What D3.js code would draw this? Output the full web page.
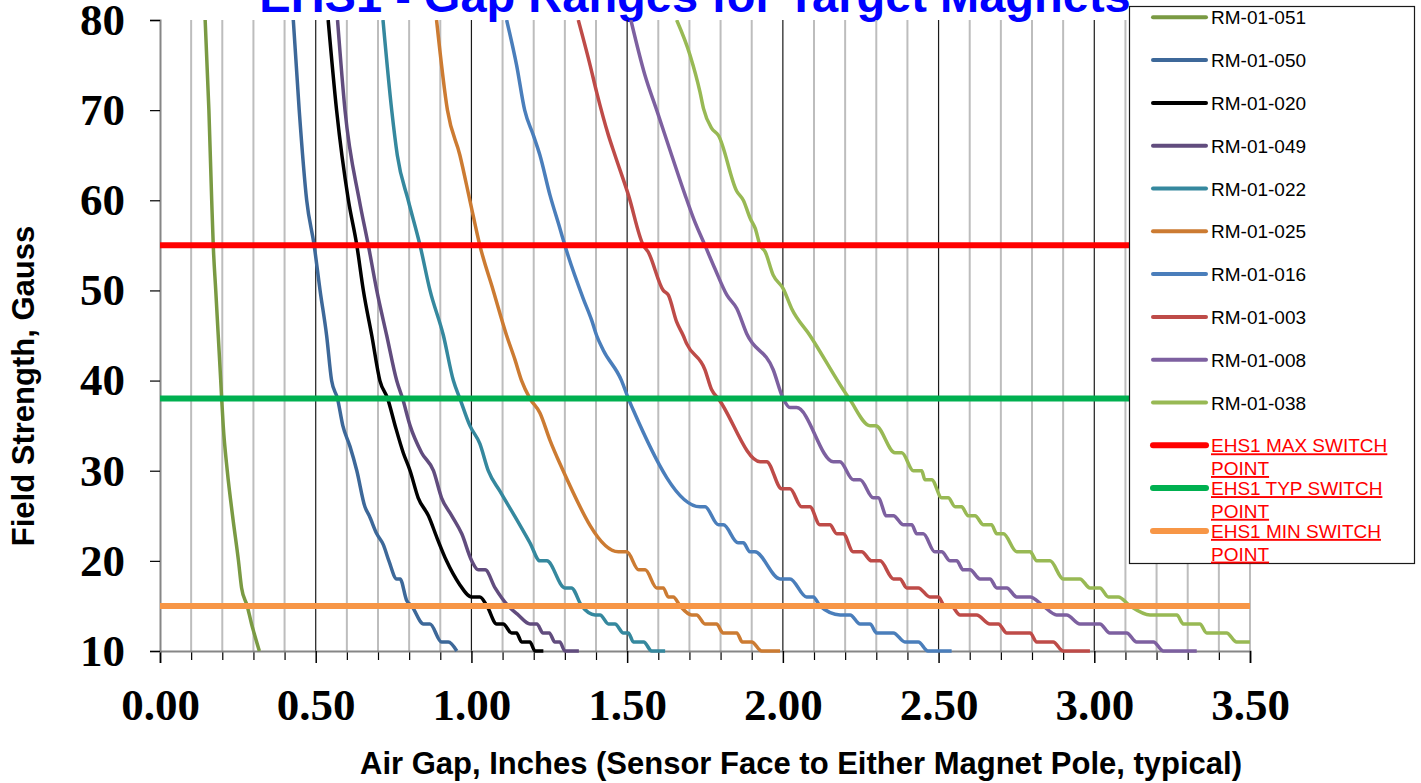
<!DOCTYPE html>
<html>
<head>
<meta charset="utf-8">
<script src="https://d3js.org/d3.v7.min.js"></script>
<style>
  body { margin: 0; background: #fff; }
  .tick text { font-family: "Liberation Serif", "Times New Roman", serif; font-weight: bold; fill: #000; }
</style>
</head>
<body>
<div id="chart"></div>
<script>
var svgWidth = 1421;
var svgHeight = 783;

var margin = { top: 20, right: 171, bottom: 132, left: 160 };
var width = svgWidth - margin.left - margin.right;
var height = svgHeight - margin.top - margin.bottom;

// tick values
var xTicks = [0, 0.5, 1.0, 1.5, 2.0, 2.5, 3.0, 3.5];
var yTicks = [10, 20, 30, 40, 50, 60, 70, 80];

// series as [air gap (in), field (gauss)]
var seriesNames = ["RM-01-051", "RM-01-050", "RM-01-020", "RM-01-049", "RM-01-022",
  "RM-01-025", "RM-01-016", "RM-01-003", "RM-01-008", "RM-01-038"];

var rm051 = [[0.145,80],[0.157,70],[0.166,60],[0.171,55],[0.179,50],[0.187,45],[0.195,40],[0.198,38],
  [0.203,35],[0.216,30],[0.233,25],[0.252,20],[0.262,17],[0.280,15],[0.294,13],[0.302,12],[0.319,10]];
var rm050 = [[0.428,80],[0.447,70],[0.471,60],[0.495,55],[0.514,50],[0.535,45],[0.551,40],[0.570,38],
  [0.587,35],[0.610,32.7],[0.632,30],[0.658,26],[0.672,25],[0.696,23],[0.717,21.8],[0.735,20],
  [0.760,18],[0.771,18],[0.792,15.6],[0.808,15],[0.846,13],[0.867,13],[0.904,11],[0.926,11],[0.953,10]];
var rm020 = [[0.540,80],[0.567,70],[0.605,60],[0.632,55],[0.653,50],[0.680,45],[0.706,40],[0.731,38],
  [0.755,35],[0.781,32],[0.803,30],[0.829,27],[0.862,25],[0.890,22.5],[0.920,20],[0.960,17.5],
  [1.001,16],[1.027,16],[1.050,15],[1.081,13],[1.102,13],[1.129,12],[1.145,12],[1.161,11],
  [1.188,11],[1.204,10],[1.231,10]];
var rm049 = [[0.570,80],[0.594,70],[0.640,60],[0.669,55],[0.696,50],[0.728,45],[0.760,40],[0.779,38],
  [0.803,35],[0.840,32],[0.878,30],[0.904,27],[0.937,25],[0.969,23],[1.001,20],[1.022,19],[1.044,19],
  [1.076,17],[1.118,15],[1.150,14],[1.188,13],[1.210,13],[1.230,12],[1.250,12],[1.268,11],[1.284,11],
  [1.300,10],[1.345,10]];
var rm022 = [[0.716,80],[0.744,70],[0.762,65],[0.797,60],[0.835,55],[0.867,50],[0.910,45],[0.942,40],
  [0.963,38],[0.995,35],[1.027,33],[1.054,30],[1.092,27.7],[1.145,24.6],[1.188,22],[1.220,20],
  [1.242,20],[1.300,17],[1.321,17],[1.354,15],[1.397,14],[1.413,14],[1.440,13],[1.461,13],[1.488,12],
  [1.504,12],[1.520,11],[1.553,11],[1.579,10],[1.622,10]];
var rm025 = [[0.888,80],[0.923,70],[0.963,65],[0.995,60],[1.027,55],[1.070,50],[1.113,45],[1.140,42.3],
  [1.161,40],[1.188,38],[1.220,36.4],[1.252,33.4],[1.284,30.8],[1.472,21],[1.499,21],[1.537,19],
  [1.558,19],[1.595,17],[1.616,17],[1.632,16],[1.648,16],[1.670,15],[1.707,14],[1.723,14],[1.750,13],
  [1.787,13],[1.808,12],[1.852,12],[1.870,11],[1.900,11],[1.932,10],[1.991,10]];
var rm016 = [[1.113,80],[1.145,75],[1.171,70],[1.199,67.2],[1.220,65],[1.252,60.6],[1.284,56.9],
  [1.300,55],[1.359,49.1],[1.386,46.7],[1.402,45],[1.423,43.4],[1.482,40],[1.504,38],[1.520,36.7],
  [1.734,26],[1.750,26],[1.793,24],[1.809,24],[1.856,22],[1.873,22],[1.894,21],[1.910,21],[1.991,18],
  [2.023,18],[2.076,16],[2.098,16],[2.119,15],[2.184,14],[2.216,14],[2.248,13],[2.280,13],[2.301,12],
  [2.355,12],[2.392,11],[2.435,11],[2.466,10],[2.542,10]];
var rm003 = [[1.343,80],[1.381,75],[1.402,72],[1.440,67.2],[1.461,65],[1.504,60.6],[1.552,55],
  [1.567,54.3],[1.616,50],[1.632,49.5],[1.659,46.5],[1.680,45],[1.691,44.1],[1.750,41.2],[1.771,39],
  [1.793,38],[1.927,31],[1.948,31],[1.996,28],[2.023,28],[2.060,26],[2.087,26],[2.119,24],[2.151,24],
  [2.173,23],[2.194,23],[2.226,21],[2.253,21],[2.285,20],[2.312,20],[2.355,18],[2.376,18],[2.398,17],
  [2.435,17],[2.472,16],[2.499,16],[2.520,15],[2.540,15],[2.569,14],[2.622,14],[2.665,13],[2.692,13],
  [2.719,12],[2.794,12],[2.815,11],[2.868,11],[2.900,10],[2.986,10]];
var rm008 = [[1.512,80],[1.557,73.9],[1.595,70],[1.643,65],[1.686,60.6],[1.713,58],[1.750,55],
  [1.782,52.4],[1.820,49.5],[1.852,48],[1.884,45.2],[1.969,41.2],[2.001,38],[2.023,37],[2.044,37],
  [2.162,31],[2.183,31],[2.226,29],[2.248,29],[2.290,27],[2.306,27],[2.333,25],[2.355,25],[2.387,24],
  [2.414,24],[2.430,23],[2.451,23],[2.488,21],[2.510,21],[2.537,20],[2.558,20],[2.579,19],[2.601,19],
  [2.633,18],[2.665,18],[2.687,17],[2.719,17],[2.751,16],[2.794,16],[2.836,15],[2.879,14],[2.911,14],
  [2.954,13],[3.018,13],[3.050,12],[3.104,12],[3.136,11],[3.190,11],[3.222,10],[3.329,10]];
var rm038 = [[1.659,80],[1.702,76.1],[1.734,72],[1.745,70.2],[1.771,68],[1.793,67.2],[1.852,61],
  [1.873,60],[1.895,58],[1.911,56.9],[1.927,55],[1.943,54.3],[1.969,51.7],[2.001,50.2],[2.028,48],
  [2.087,45],[2.213,38],[2.280,35],[2.298,35],[2.360,32],[2.382,32],[2.419,30],[2.446,30],[2.456,29],
  [2.478,29],[2.510,27],[2.531,27],[2.553,26],[2.574,26],[2.595,25],[2.617,25],[2.644,24],[2.670,24],
  [2.687,23],[2.708,23],[2.751,21],[2.794,21],[2.815,20],[2.858,20],[2.900,18],[2.954,18],[2.986,17],
  [3.018,17],[3.045,16],[3.077,16],[3.115,15],[3.179,14],[3.265,14],[3.286,13],[3.339,13],[3.361,12],
  [3.425,12],[3.457,11],[3.500,11]];

var seriesData = [rm051, rm050, rm020, rm049, rm022, rm025, rm016, rm003, rm008, rm038];

// switch point limits
var refNames = [["EHS1 MAX SWITCH", "POINT"], ["EHS1 TYP SWITCH", "POINT"], ["EHS1 MIN SWITCH", "POINT"]];
var refValues = [55, 38, 15];

var seriesColors = ["#7A9A43", "#3D6899", "#000000", "#614C7E", "#35889E",
  "#CC7B32", "#4A7EBB", "#BE4B48", "#7D60A0", "#98B954"];
var refColors = ["#FF0000", "#00B050", "#F79646"];

var svg = d3.select("#chart")
  .append("svg")
  .attr("width", svgWidth)
  .attr("height", svgHeight)
  .style("background", "#fff");

// title, mostly cut off at the top
svg.append("text")
  .attr("x", 695)
  .attr("y", 12)
  .attr("text-anchor", "middle")
  .style("font-family", "'Liberation Sans', Arial, sans-serif")
  .style("font-weight", "bold")
  .style("font-size", "47px")
  .style("fill", "#0000FF")
  .text("EHS1 - Gap Ranges for Target Magnets");

var chartGroup = svg.append("g")
  .attr("transform", `translate(${margin.left}, ${margin.top})`);

var xScale = d3.scaleLinear().domain([0, 3.5]).range([0, width]);
var yScale = d3.scaleLinear().domain([10, 80]).range([height, 0]);

// vertical grid
var minorTicks = d3.range(1, 36).map(d => d / 10).filter(d => Math.round(d * 10) % 5 !== 0);
var majorTicks = xTicks.filter(d => d > 0 && d < 3.5);

chartGroup.selectAll(".minorGrid")
  .data(minorTicks.concat([3.5]))
  .enter()
  .append("line")
  .attr("x1", d => xScale(d))
  .attr("x2", d => xScale(d))
  .attr("y1", 0)
  .attr("y2", height)
  .attr("stroke", "#BDBDBD")
  .attr("stroke-width", 2);

chartGroup.selectAll(".majorGrid")
  .data(majorTicks)
  .enter()
  .append("line")
  .attr("x1", d => xScale(d))
  .attr("x2", d => xScale(d))
  .attr("y1", 0)
  .attr("y2", height)
  .attr("stroke", "#1a1a1a")
  .attr("stroke-width", 1.2);

// axes
var minorAxis = chartGroup.append("g")
  .attr("transform", `translate(0, ${height})`)
  .call(d3.axisBottom(xScale).tickValues(minorTicks).tickSize(9).tickFormat(""));
minorAxis.select(".domain").remove();
minorAxis.selectAll("line").attr("stroke", "#000").attr("stroke-width", 1.2);

var xAxis = chartGroup.append("g")
  .attr("transform", `translate(0, ${height})`)
  .call(d3.axisBottom(xScale).tickValues(xTicks).tickSize(12).tickPadding(25)
    .tickFormat(d3.format(".2f")));
xAxis.select(".domain").attr("stroke", "#868686").attr("stroke-width", 2);
xAxis.selectAll(".tick line").attr("stroke", "#000").attr("stroke-width", 1.5);
xAxis.selectAll("text").style("font-size", "45px");

var yAxis = chartGroup.append("g")
  .call(d3.axisLeft(yScale).tickValues(yTicks).tickSize(10).tickPadding(25));
yAxis.select(".domain").attr("stroke", "#868686").attr("stroke-width", 2);
yAxis.selectAll(".tick line").attr("stroke", "#000").attr("stroke-width", 1.2);
yAxis.selectAll("text").style("font-size", "45px");

// axis titles
svg.append("text")
  .attr("x", 801)
  .attr("y", 774)
  .attr("text-anchor", "middle")
  .style("font-family", "'Liberation Sans', Arial, sans-serif")
  .style("font-weight", "bold")
  .style("font-size", "31px")
  .text("Air Gap, Inches (Sensor Face to Either Magnet Pole, typical)");

svg.append("text")
  .attr("transform", "translate(34, 386) rotate(-90)")
  .attr("text-anchor", "middle")
  .style("font-family", "'Liberation Sans', Arial, sans-serif")
  .style("font-weight", "bold")
  .style("font-size", "31px")
  .text("Field Strength, Gauss");

// curves
svg.append("defs").append("clipPath")
  .attr("id", "plotClip")
  .append("rect")
  .attr("x", 0).attr("y", 0)
  .attr("width", width + 4).attr("height", height + 4);

var line = d3.line()
  .x(d => xScale(d[0]))
  .y(d => yScale(d[1]))
  .curve(d3.curveMonotoneX);

chartGroup.append("g")
  .attr("clip-path", "url(#plotClip)")
  .selectAll("path")
  .data(seriesData)
  .enter()
  .append("path")
  .attr("d", line)
  .attr("fill", "none")
  .attr("stroke", (d, i) => seriesColors[i])
  .attr("stroke-width", 3.5)
  .attr("stroke-linejoin", "round");

// switch point lines
chartGroup.selectAll(".refLine")
  .data(refValues)
  .enter()
  .append("line")
  .attr("x1", 0)
  .attr("x2", width)
  .attr("y1", d => yScale(d))
  .attr("y2", d => yScale(d))
  .attr("stroke", (d, i) => refColors[i])
  .attr("stroke-width", 6);

// legend
var legend = svg.append("g");
legend.append("rect")
  .attr("x", 1129.5)
  .attr("y", 6.5)
  .attr("width", 285)
  .attr("height", 557)
  .attr("fill", "#fff")
  .attr("stroke", "#1a1a1a")
  .attr("stroke-width", 1.2);

var legendItems = seriesNames.map((n, i) => ({ label: [n], color: seriesColors[i], w: 4, ref: false }))
  .concat(refNames.map((n, i) => ({ label: n, color: refColors[i], w: 6, ref: true })));

var items = legend.selectAll(".item")
  .data(legendItems)
  .enter()
  .append("g")
  .attr("transform", (d, i) => `translate(0, ${17.3 + i * 42.8})`);

items.append("line")
  .attr("x1", 1153)
  .attr("x2", 1206)
  .attr("stroke", d => d.color)
  .attr("stroke-width", d => d.w)
  .attr("stroke-linecap", "round");

var labels = items.append("text")
  .attr("x", 1211)
  .attr("y", 7)
  .style("font-family", "'Liberation Sans', Arial, sans-serif")
  .style("font-size", "19px")
  .style("fill", d => d.ref ? "#FF0000" : "#000")
  .style("text-decoration", d => d.ref ? "underline" : "none");

labels.selectAll("tspan")
  .data(d => d.label)
  .enter()
  .append("tspan")
  .attr("x", 1211)
  .attr("dy", (d, i) => i === 0 ? 0 : 22.7)
  .text(d => d);
</script>
</body>
</html>
